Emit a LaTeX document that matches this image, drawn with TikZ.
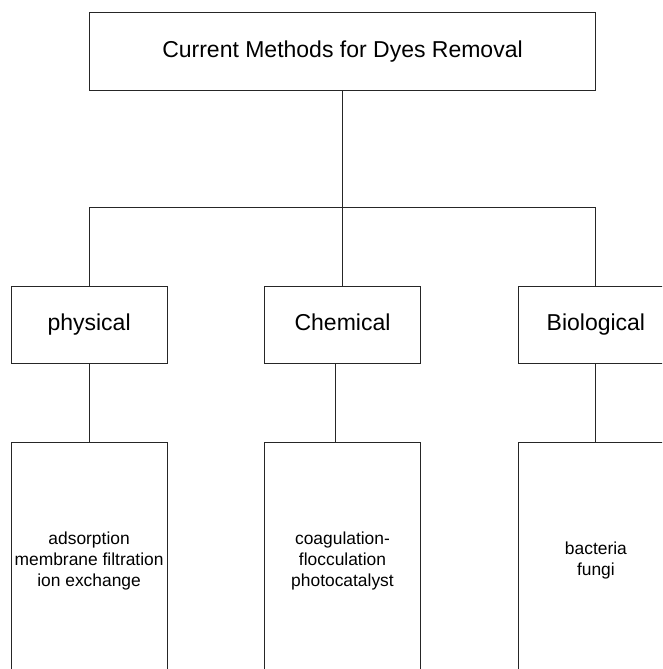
\documentclass[tikz,border=0pt]{standalone}
\usepackage{fontspec}
\setsansfont{Liberation Sans}
\usetikzlibrary{positioning, calc}

\begin{document}
\begin{tikzpicture}[
  x=1pt, y=1pt,
  node distance=78.5pt and 96.6pt,
  align=center,
  font=\sffamily,
  % Estilos de bloques
  box/.style={draw=black!85, rectangle, line width=1pt, minimum width=155.8pt, minimum height=77.3pt, inner sep=2pt, fill=white, font=\sffamily\fontsize{23}{27.6}\selectfont},
  groupbox/.style={box, text height=17pt, text depth=5pt},
  titlebox/.style={groupbox, minimum width=506.4pt, minimum height=77.7pt},
  listbox/.style={box, minimum height=236pt, font=\sffamily\fontsize{17.4}{21}\selectfont},
  % Estilos de lineas
  line/.style={draw=black!85, line width=1pt}
]

  \useasboundingbox (0,0) rectangle (662,-669);
  \clip (0,0) rectangle (662,-669);

  % ==========================================
  % TOP: MAIN TOPIC
  % ==========================================
  \node[titlebox] (metodos) at (342.5,-51.2) {Current Methods for Dyes Removal};

  % ==========================================
  % MIDDLE ROW: METHOD GROUPS
  % ==========================================
  \node[groupbox, below=195pt of metodos] (quimico) {Chemical};
  \node[groupbox, left=of quimico] (fisico) {physical};
  \node[groupbox, right=of quimico] (biologico) {Biological};

  \coordinate (bus) at ($(metodos.south)+(0,-116.7)$);
  \draw[line] (metodos.south) -- (bus);
  \draw[line] (fisico.north) |- (bus) -| (biologico.north);
  \draw[line] (bus) -- (quimico.north);

  % ==========================================
  % LOWER ROW: EXAMPLES OF EACH GROUP
  % ==========================================
  \node[listbox, below=of fisico] (fisico_lista) {
    adsorption\\
    membrane filtration\\
    ion exchange
  };
  \node[listbox, below=of quimico] (quimico_lista) {
    coagulation-\\
    flocculation\\
    photocatalyst
  };
  \node[listbox, below=of biologico] (biologico_lista) {
    bacteria\\
    fungi
  };

  \draw[line] (fisico) -- (fisico_lista);
  \draw[line] ([xshift=-7pt]quimico.south) -- ([xshift=-7pt]quimico_lista.north);
  \draw[line] (biologico) -- (biologico_lista);

\end{tikzpicture}
\end{document}
